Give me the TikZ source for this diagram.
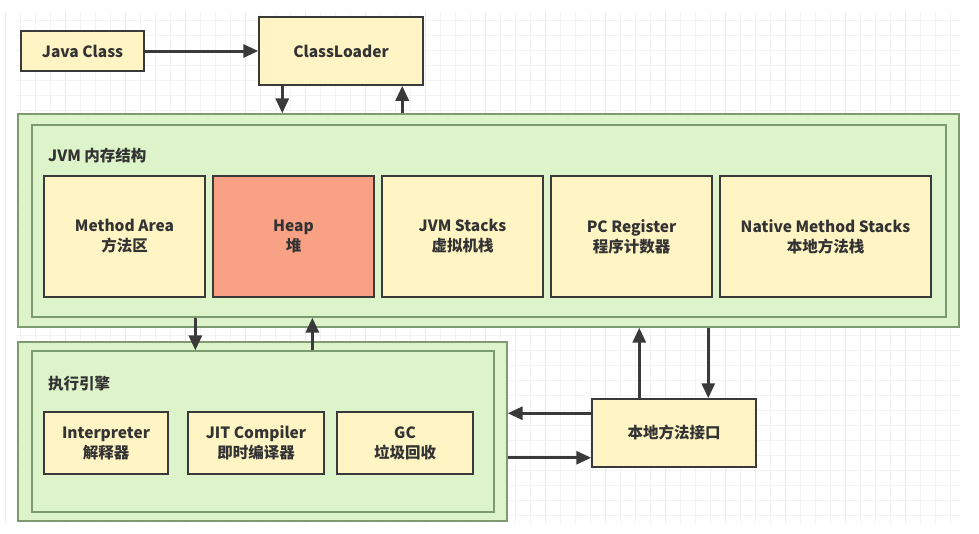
\documentclass[tikz,border=0pt]{standalone}
\usepackage{fontspec}
\setmainfont{Noto Sans CJK SC}
\usetikzlibrary{arrows.meta,calc}
\definecolor{yfill}{HTML}{FFF4C4}
\definecolor{gfill}{HTML}{DDF4CA}
\definecolor{hfill}{HTML}{F8A185}
\definecolor{gline}{HTML}{7E9A70}
\definecolor{bline}{HTML}{3A3A3A}
\definecolor{txt}{HTML}{333333}
\definecolor{gridminor}{HTML}{F3F3F3}
\definecolor{gridmajor}{HTML}{E9E9E9}
\tikzset{
  ybox/.style={draw=bline, fill=yfill, line width=1.5pt, text=txt, inner sep=0pt,
    font=\bfseries\fontsize{15.5}{20}\selectfont, align=center},
  hbox/.style={ybox, fill=hfill},
  gbox/.style={draw=gline, fill=gfill, line width=1.3pt, inner sep=0pt},
  lbl/.style={text=txt, inner sep=0pt, anchor=west, font=\bfseries\fontsize{15.5}{20}\selectfont},
  arr/.style={draw=bline, line width=3pt, -{Triangle[length=15pt,width=13pt]}},
}
\begin{document}
\begin{tikzpicture}[x=1pt,y=-1pt]
\useasboundingbox (0,0) rectangle (979,533);
\fill[white] (0,0) rectangle (979,533);
% background grid
\foreach \i in {0,...,63} {
  \pgfmathsetmacro{\gx}{5+15*\i}
  \ifnum\numexpr\i-4*(\i/4)\relax=0
    \draw[gridmajor, line width=0.8pt] (\gx,12) -- (\gx,523);
  \else
    \draw[gridminor, line width=0.7pt] (\gx,12) -- (\gx,523);
  \fi
}
\foreach \j in {1,...,34} {
  \pgfmathsetmacro{\gy}{5+15*\j}
  \draw[gridminor, line width=0.7pt] (15,\gy) -- (960,\gy);
}

% top
\node[ybox, minimum width=123pt, minimum height=40pt] (jc) at (82.5,51) {Java Class};
\node[ybox, minimum width=164pt, minimum height=68pt] (cl) at (341,51) {ClassLoader};

% JVM memory
\node[gbox, minimum width=941pt, minimum height=213pt] (jvmo) at (488.5,220.5) {};
\node[gbox, minimum width=914pt, minimum height=192pt] (jvmi) at (489,221) {};
\node[lbl] (jvml) at (48,156) {JVM 内存结构};
\node[ybox, minimum width=161pt, minimum height=121pt] (ma) at (124.5,236.5) {Method Area\\方法区};
\node[hbox, minimum width=161pt, minimum height=121pt] (heap) at (293.5,236.5) {Heap\\堆};
\node[ybox, minimum width=161pt, minimum height=121pt] (vs) at (462.5,236.5) {JVM Stacks\\虚拟机栈};
\node[ybox, minimum width=161pt, minimum height=121pt] (pc) at (631.5,236.5) {PC Register\\程序计数器};
\node[ybox, minimum width=211pt, minimum height=121pt] (nms) at (825.5,236.5) {Native Method Stacks\\本地方法栈};

% execution engine
\node[gbox, minimum width=489pt, minimum height=179pt] (exo) at (262.5,431.5) {};
\node[gbox, minimum width=462pt, minimum height=161pt] (exi) at (263,431.5) {};
\node[lbl] (exl) at (48,384) {执行引擎};
\node[ybox, minimum width=124pt, minimum height=62pt] (interp) at (106,443) {Interpreter\\解释器};
\node[ybox, minimum width=136pt, minimum height=62pt] (jit) at (256,443) {JIT Compiler\\即时编译器};
\node[ybox, minimum width=136pt, minimum height=62pt] (gc) at (405,443) {GC\\垃圾回收};

% native interface
\node[ybox, minimum width=164pt, minimum height=68pt] (ni) at (674,433) {本地方法接口};

% connectors
\draw[arr] (jc) -- (cl);
\coordinate (c1) at ([xshift=24pt]cl.south west);
\coordinate (c2) at ([xshift=144pt]cl.south west);
\draw[arr] (c1) -- (c1 |- jvmo.north);
\draw[arr] (c2 |- jvmo.north) -- (c2);

\coordinate (e1) at ([xshift=164pt]jvmi.south west);
\coordinate (e2) at ([xshift=281pt]jvmi.south west);
\draw[arr] (e1) -- (e1 |- exi.north);
\draw[arr] (e2 |- exi.north) -- (e2);

\coordinate (n1) at ([xshift=48pt]ni.north west);
\coordinate (n2) at ([xshift=117pt]ni.north west);
\draw[arr] (n1) -- (n1 |- jvmo.south);
\draw[arr] (n2 |- jvmo.south) -- (n2);

\coordinate (w1) at ([yshift=-15pt]ni.north west);
\coordinate (w2) at ([yshift=10pt]ni.south west);
\draw[arr] (w1) -- (w1 -| exo.east);
\draw[arr] (w2 -| exo.east) -- (w2);
\end{tikzpicture}
\end{document}
